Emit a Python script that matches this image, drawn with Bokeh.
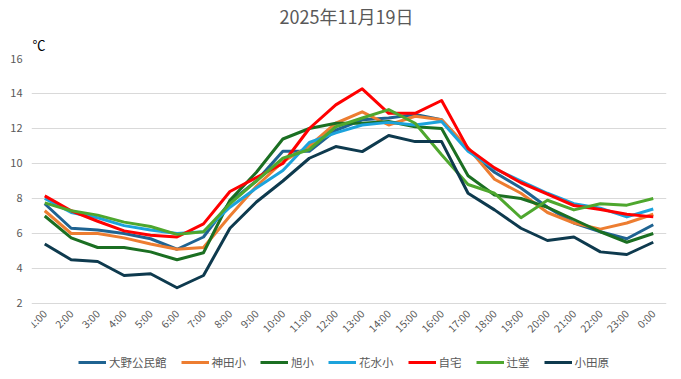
import math
from bokeh.plotting import figure
from bokeh.models import FixedTicker, Range1d, Legend, LegendItem, Title
from bokeh.embed import file_html
from bokeh.resources import INLINE

hours = ["1:00", "2:00", "3:00", "4:00", "5:00", "6:00", "7:00", "8:00", "9:00", "10:00",
         "11:00", "12:00", "13:00", "14:00", "15:00", "16:00", "17:00", "18:00", "19:00",
         "20:00", "21:00", "22:00", "23:00", "0:00"]

ono = [7.7, 6.3, 6.2, 6.0, 5.7, 5.1, 5.8, 7.8, 9.0, 10.7, 10.7, 11.9, 12.5, 12.6, 12.8, 12.5,
       10.8, 9.5, 8.6, 7.5, 6.6, 6.1, 5.7, 6.5]
kanda = [7.3, 6.0, 6.0, 5.75, 5.4, 5.1, 5.2, 7.0, 8.7, 10.1, 11.0, 12.3, 12.95, 12.2, 12.7, 12.5,
         10.9, 9.1, 8.3, 7.2, 6.6, 6.25, 6.6, 7.1]
asahi = [7.0, 5.75, 5.2, 5.2, 4.95, 4.5, 4.9, 7.9, 9.5, 11.4, 12.0, 12.3, 12.3, 12.4, 12.1, 12.0,
         9.3, 8.2, 8.0, 7.5, 6.8, 6.1, 5.5, 6.0]
hanamizu = [8.0, 7.2, 6.9, 6.45, 6.2, 6.0, 6.1, 7.5, 8.6, 9.6, 11.2, 11.75, 12.2, 12.35, 12.2, 12.4,
            10.7, 9.7, 9.0, 8.3, 7.7, 7.45, 6.95, 7.4]
jitaku = [8.15, 7.3, 6.7, 6.15, 5.9, 5.8, 6.55, 8.4, 9.2, 10.0, 12.0, 13.35, 14.27, 12.87, 12.87, 13.6,
          10.85, 9.75, 8.9, 8.25, 7.6, 7.37, 7.1, 6.95]
tsujido = [7.75, 7.3, 7.05, 6.65, 6.4, 5.95, 6.1, 7.7, 9.0, 10.3, 10.8, 12.1, 12.6, 13.08, 12.3, 10.5,
           8.8, 8.3, 6.9, 7.9, 7.35, 7.7, 7.62, 8.0]
odawara = [5.4, 4.5, 4.4, 3.6, 3.7, 2.9, 3.6, 6.3, 7.8, 9.0, 10.3, 10.97, 10.68, 11.6, 11.25, 11.25,
           8.3, 7.35, 6.3, 5.6, 5.8, 4.95, 4.8, 5.5]

names = ["大野公民館", "神田小", "旭小", "花水小", "自宅", "辻堂", "小田原"]
series = [ono, kanda, asahi, hanamizu, jitaku, tsujido, odawara]
colors = ["#1F6391", "#ED7D31", "#1B6F22", "#1CA3DC", "#FF0000", "#4EA72E", "#0E3A4E"]
y_ticks = [2, 4, 6, 8, 10, 12, 14, 16]

FONT = "Noto Sans CJK JP"
GRAY = "#595959"

# frame extends below the 2-line so the x labels and legend live inside it
p = figure(frame_width=635, frame_height=314, x_range=hours, y_range=Range1d(-1.943, 16),
           output_backend="svg", toolbar_location=None,
           min_border_left=31, min_border_right=7, min_border_top=0, min_border_bottom=0)
p.outline_line_color = None
p.background_fill_color = "white"
p.border_fill_color = "white"

p.xgrid.grid_line_color = None
p.ygrid.grid_line_color = "#D9D9D9"
p.ygrid.grid_line_width = 1
p.yaxis.ticker = FixedTicker(ticks=y_ticks)

for ax in (p.xaxis[0], p.yaxis[0]):
    ax.axis_line_color = None
    ax.major_tick_line_color = None
    ax.minor_tick_line_color = None
    ax.major_tick_out = 0
    ax.major_tick_in = 0
    ax.minor_tick_out = 0
    ax.minor_tick_in = 0
    ax.major_label_text_color = GRAY
    ax.major_label_text_font = FONT
p.yaxis.major_label_text_font_size = "11px"
p.yaxis.major_label_standoff = 9
p.xaxis.fixed_location = 2
p.xaxis.major_label_text_font_size = "10.5px"
p.xaxis.major_label_orientation = math.pi / 4
p.xaxis.major_label_standoff = 8

items = []
for name, vals, col in zip(names, series, colors):
    r = p.line(x=hours, y=vals, line_color=col, line_width=3, line_join="round")
    items.append(LegendItem(label=name, renderers=[r]))

legend = Legend(items=items, orientation="horizontal", location=(47, 2),
                glyph_width=28, glyph_height=16, label_standoff=3, spacing=14,
                padding=2, margin=0, label_text_font=FONT, label_text_font_size="11.5px",
                label_text_color=GRAY, background_fill_alpha=0, border_line_color=None)
p.add_layout(legend, "center")

unit = Title(text="℃", align="left", offset=1, standoff=9, text_font=FONT,
             text_font_size="13px", text_font_style="normal", text_color="black")
main = Title(text="2025年11月19日", align="left", offset=248, standoff=0, text_font=FONT,
             text_font_size="18px", text_font_style="normal", text_color=GRAY)
p.add_layout(unit, "above")
p.add_layout(main, "above")

open("out.html", "w").write(file_html(p, INLINE))
